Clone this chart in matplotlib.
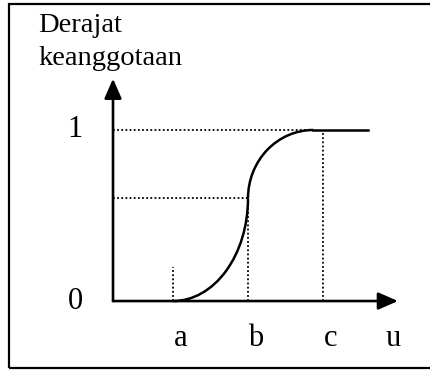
import matplotlib.pyplot as plt
from matplotlib.patches import Arc, Rectangle

# Points on the universe axis (a, b, c) and the membership levels
x_labels: list[str] = ["a", "b", "c", "u"]
x_points: list[float] = [0.8, 1.8, 2.8, 3.73]
a, b, c = x_points[0], x_points[1], x_points[2]
top_start: float = 2.67      # where the curve reaches 1
flat_end: float = 3.4        # end of the flat part at 1
mid_level: float = 0.6       # membership at b
a_mark: float = 0.2          # height of the dotted mark at a
y_labels: list[str] = ["0", "1"]
y_points: list[float] = [0.0, 1.0]
y_title: list[str] = ["Derajat", "keanggotaan"]


def main() -> None:
    plt.rcParams["font.family"] = ["Liberation Serif", "DejaVu Serif"]

    fig = plt.figure(figsize=(4.30, 3.71), dpi=100)
    ax = fig.add_axes([0, 0, 1, 1])
    ax.set_xlim(-1.507, 4.227)
    ax.set_ylim(-0.409, 1.760)
    ax.axis("off")

    # Frame round the picture (right side falls outside the image)
    ax.add_patch(Rectangle((0.021, 0.008), 1.0, 0.981, transform=ax.transAxes,
                           fill=False, lw=1.6, ec="black", clip_on=False))

    # Axes with arrow heads
    arrow = dict(arrowstyle="-|>,head_length=0.8,head_width=0.35",
                 mutation_scale=15, lw=1.9, color="black",
                 shrinkA=0, shrinkB=0)
    ax.annotate("", xy=(0, 1.30), xytext=(0, 0), arrowprops=arrow)
    ax.annotate("", xy=(3.8, 0), xytext=(0, 0), arrowprops=arrow)

    # Dotted guide lines
    dot = dict(color="black", lw=1.3, linestyle=(0, (1, 1.3)))
    ax.plot([0, top_start], [1, 1], **dot)
    ax.plot([0, b], [mid_level, mid_level], **dot)
    ax.plot([a, a], [0, a_mark], **dot)
    ax.plot([b, b], [0, mid_level], **dot)
    ax.plot([c, c], [0, 1], **dot)

    # S-shaped membership curve: two quarter ellipses and a flat part
    ax.add_patch(Arc((a, mid_level), 2 * (b - a), 2 * mid_level,
                     theta1=270, theta2=360, lw=1.8, color="black"))
    ax.add_patch(Arc((top_start, mid_level), 2 * (top_start - b),
                     2 * (1 - mid_level), theta1=90, theta2=180,
                     lw=1.8, color="black"))
    ax.plot([top_start, flat_end], [1, 1], color="black", lw=1.8)

    # Labels
    for label, y in zip(y_labels, y_points):
        ax.text(-0.507, y, label, fontsize=22, ha="center", va="center")
    for label, x in zip(x_labels, x_points):
        ax.text(x + 0.1 if label != "u" else x, -0.263, label,
                fontsize=22, ha="center", va="baseline")
    ax.text(-1.0, 1.573, y_title[0], fontsize=20.5, ha="left", va="baseline")
    ax.text(-1.0, 1.380, y_title[1], fontsize=20.5, ha="left", va="baseline")

    fig.savefig("out.png", dpi=100)


if __name__ == "__main__":
    main()
